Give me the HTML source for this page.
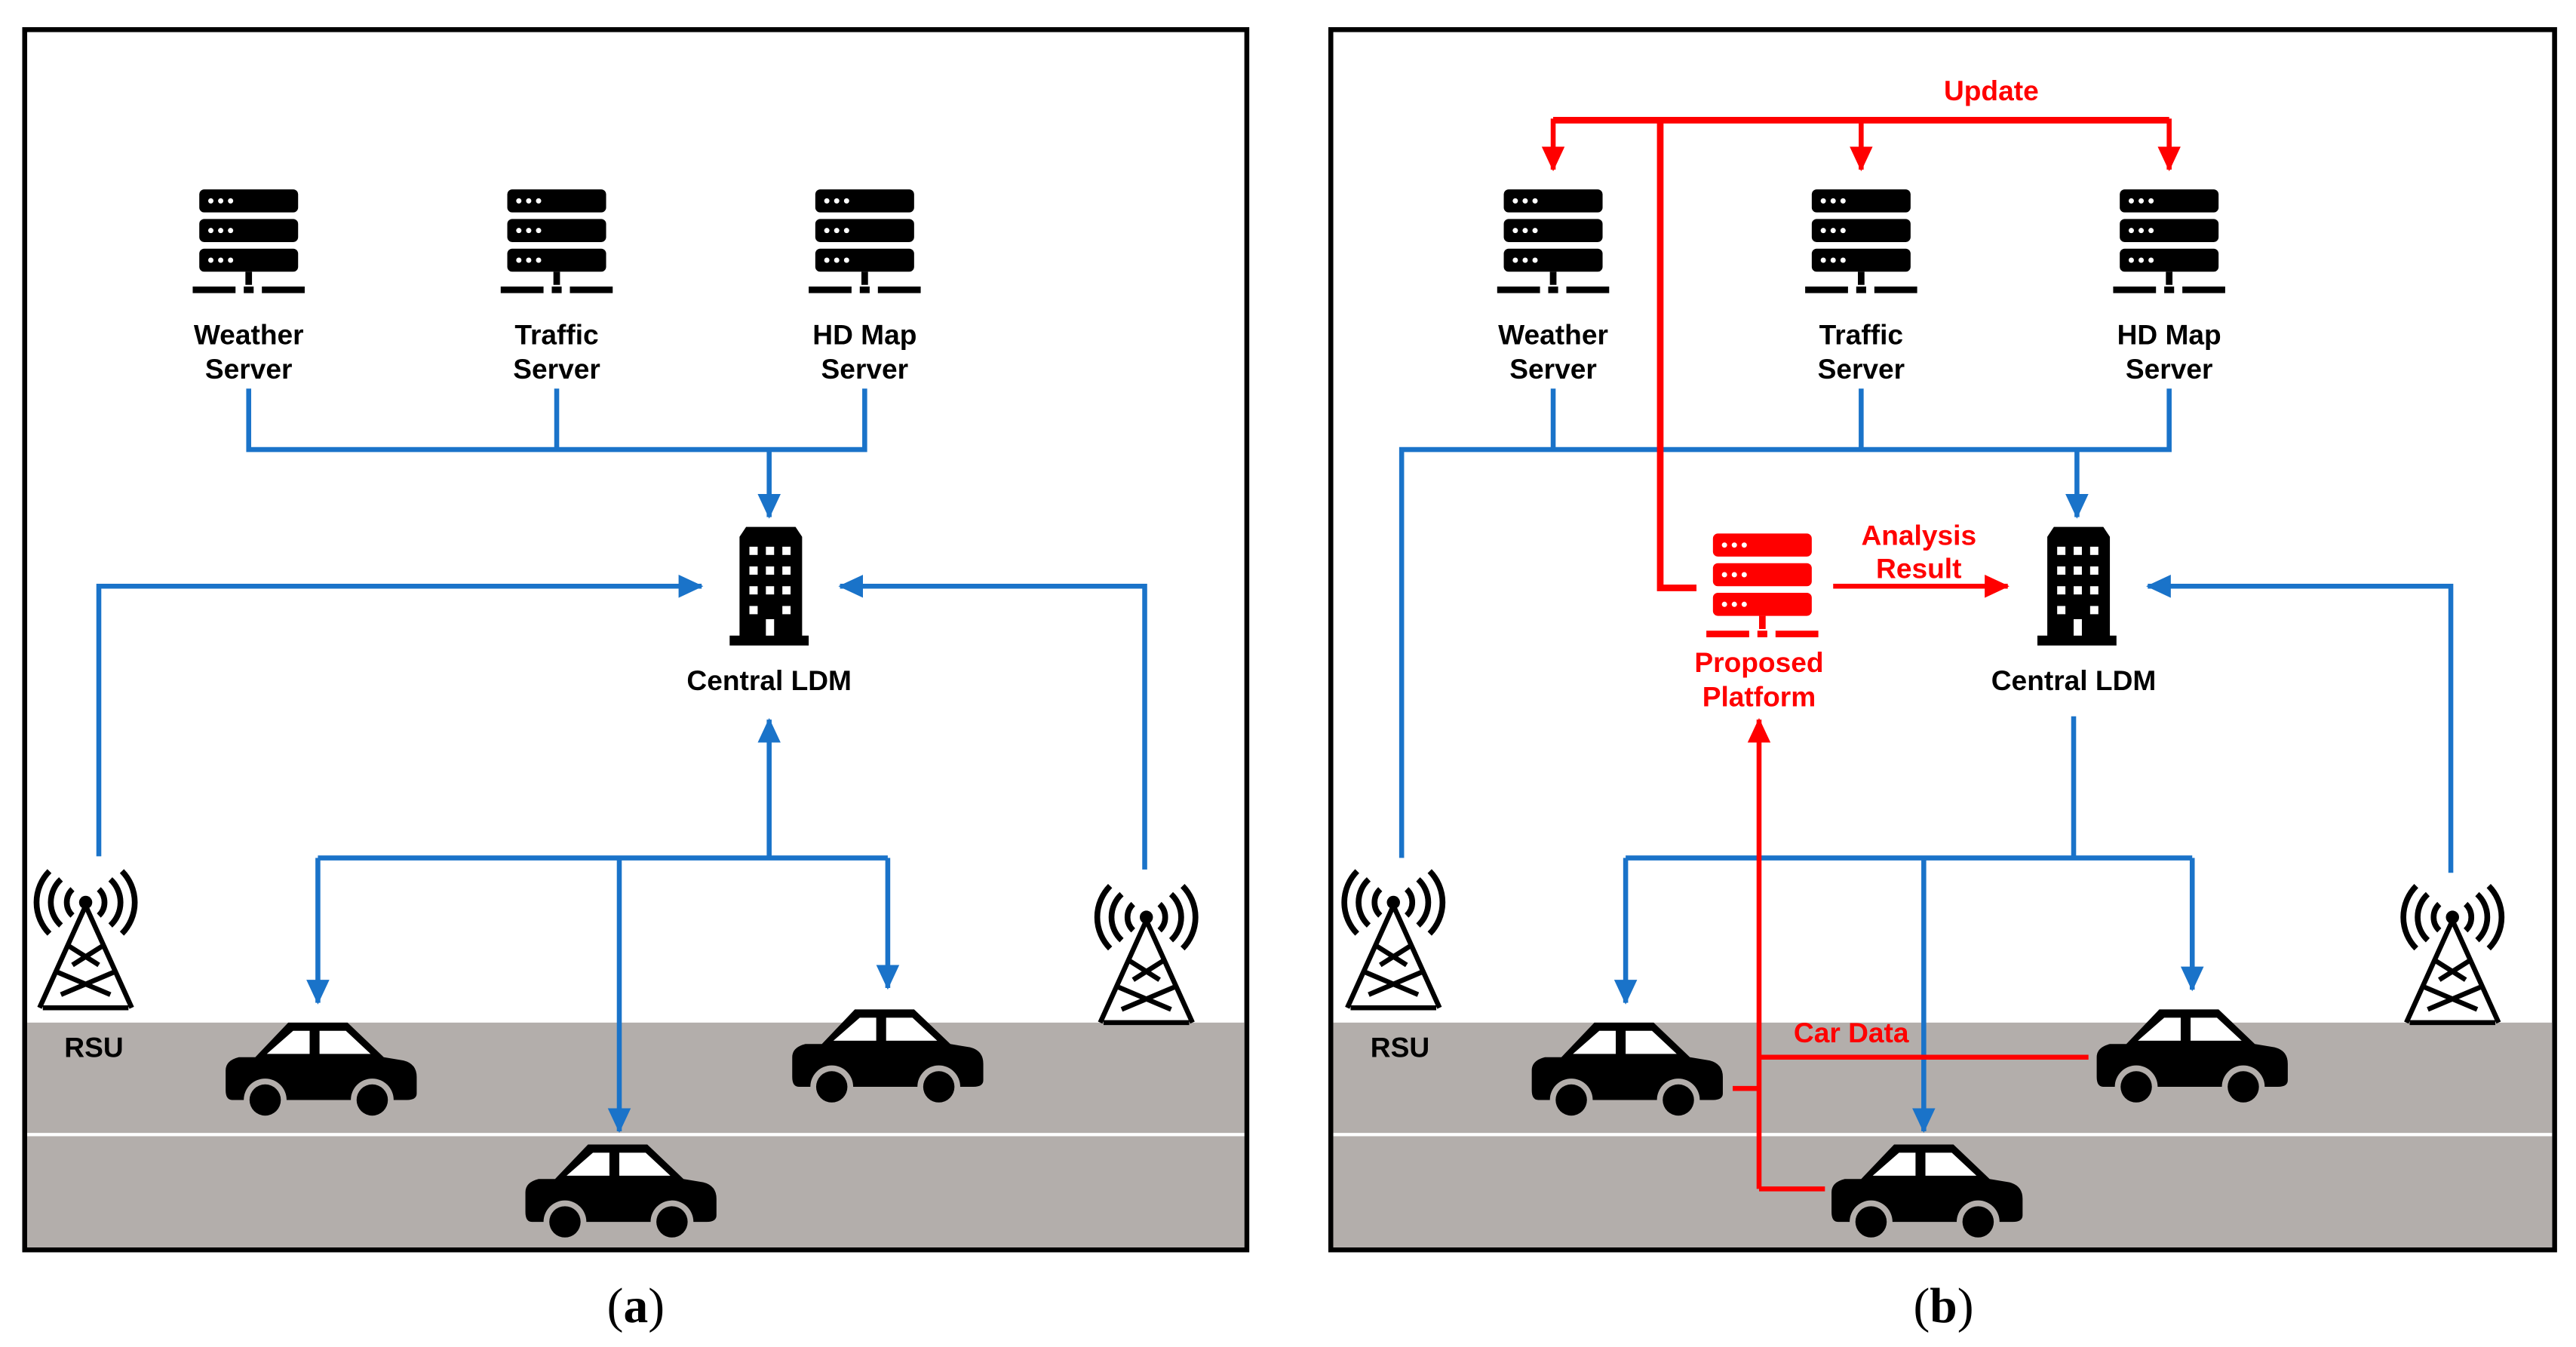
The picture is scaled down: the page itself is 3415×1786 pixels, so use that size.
<!DOCTYPE html>
<html><head><meta charset="utf-8"><style>
html,body{margin:0;padding:0;background:#fff;}
svg{display:block;}
text{font-family:"Liberation Sans",sans-serif;font-weight:bold;font-size:17px;text-anchor:middle;}
</style></head><body>
<svg width="3415" height="1786" viewBox="0 0 1564 818" preserveAspectRatio="none" xmlns="http://www.w3.org/2000/svg">
<defs>
<marker id="ab" markerUnits="userSpaceOnUse" markerWidth="16" markerHeight="16" refX="14" refY="8" orient="auto"><path d="M0,1 L15,8 L0,15 Z" fill="#1a73c9"/></marker>
<marker id="ar" markerUnits="userSpaceOnUse" markerWidth="16" markerHeight="16" refX="14" refY="8" orient="auto"><path d="M0,1 L15,8 L0,15 Z" fill="#f00"/></marker>
<g id="srv">
<rect x="0" y="0" width="60" height="14" rx="3"/><rect x="0" y="18" width="60" height="14" rx="3"/><rect x="0" y="36" width="60" height="14" rx="3"/>
<g fill="#fff"><circle cx="7" cy="7" r="1.6"/><circle cx="13" cy="7" r="1.6"/><circle cx="19" cy="7" r="1.6"/>
<circle cx="7" cy="25" r="1.6"/><circle cx="13" cy="25" r="1.6"/><circle cx="19" cy="25" r="1.6"/>
<circle cx="7" cy="43" r="1.6"/><circle cx="13" cy="43" r="1.6"/><circle cx="19" cy="43" r="1.6"/></g>
<rect x="28" y="50" width="4" height="8"/><rect x="-4" y="59" width="26" height="4"/><rect x="27" y="59" width="6" height="4"/><rect x="38" y="59" width="26" height="4"/>
</g>
<g id="car">
<path d="M2,30 Q2,24 10,22 L20,22 L40,1 L76,1 L98,22 L110,24 Q118,26 118,34 L118,44 Q118,48 112,48 L6,48 Q2,48 2,42 Z" fill="#000"/>
<path d="M27,20 L43,6 L53,6 L53,20 Z M59,6 L75,6 L90,20 L59,20 Z" fill="#fff"/>
<circle cx="26" cy="48" r="13" fill="#b3aeab"/><circle cx="26" cy="48" r="9.5" fill="#000"/>
<circle cx="91" cy="48" r="13" fill="#b3aeab"/><circle cx="91" cy="48" r="9.5" fill="#000"/>
</g>
<g id="bld">
<path d="M6,6 L10,0 L40,0 L44,6 L44,66 L48,66 L48,72 L0,72 L0,66 L6,66 Z" fill="#000"/>
<g fill="#fff"><rect x="12" y="12" width="5" height="5"/><rect x="22" y="12" width="5" height="5"/><rect x="32" y="12" width="5" height="5"/>
<rect x="12" y="24" width="5" height="5"/><rect x="22" y="24" width="5" height="5"/><rect x="32" y="24" width="5" height="5"/>
<rect x="12" y="36" width="5" height="5"/><rect x="22" y="36" width="5" height="5"/><rect x="32" y="36" width="5" height="5"/>
<rect x="12" y="48" width="5" height="5"/><rect x="32" y="48" width="5" height="5"/><rect x="22" y="56" width="5" height="10"/></g>
</g>
<g id="twr" fill="none" stroke="#000" stroke-width="3.5">
<circle cx="30" cy="18" r="4" fill="#000" stroke="none"/>
<path d="M22,10 A11,11 0 0 0 22,26 M38,10 A11,11 0 0 1 38,26 M15,4 A19,19 0 0 0 15,32 M45,4 A19,19 0 0 1 45,32 M8,-1 A27,27 0 0 0 8,37 M52,-1 A27,27 0 0 1 52,37"/>
<path d="M30,20 L2,82 M30,20 L58,82 M12,60 L45,74 M48,60 L15,74 M19,44 L38,56 M41,44 L22,56 M4,82 L56,82" stroke-width="3"/>
</g>
</defs>

<!-- Panel A -->
<rect x="15" y="18" width="742" height="741" fill="#fff" stroke="#000" stroke-width="3"/>
<rect x="16.5" y="621" width="739" height="136.5" fill="#b3aeab"/>
<rect x="16.5" y="688" width="739" height="2" fill="#fff"/>
<use href="#srv" x="121" y="115"/><use href="#srv" x="308" y="115"/><use href="#srv" x="495" y="115"/>
<text x="151" y="209">Weather</text><text x="151" y="230">Server</text>
<text x="338" y="209">Traffic</text><text x="338" y="230">Server</text>
<text x="525" y="209">HD Map</text><text x="525" y="230">Server</text>
<g fill="none" stroke="#1a73c9" stroke-width="3">
<path d="M151,236 V273 H525 V236 M338,236 V273"/>
<path d="M467,273 V314" marker-end="url(#ab)"/>
<path d="M60,520 V356 H426" marker-end="url(#ab)"/>
<path d="M695,528 V356 H510" marker-end="url(#ab)"/>
<path d="M467,521 V437" marker-end="url(#ab)"/>
<path d="M193,521 H539"/>
<path d="M193,521 V609" marker-end="url(#ab)"/>
<path d="M539,521 V600" marker-end="url(#ab)"/>
<path d="M376,521 V687" marker-end="url(#ab)"/>
</g>
<use href="#bld" x="443" y="320"/>
<text x="467" y="419">Central LDM</text>
<use href="#twr" x="22" y="530"/><use href="#twr" x="666" y="539"/>
<text x="57" y="642">RSU</text>
<use href="#car" x="135" y="620"/><use href="#car" x="479" y="612"/><use href="#car" x="317" y="694"/>
<text x="386" y="803" style="font-family:'Liberation Serif',serif;font-weight:normal;font-size:30px">(<tspan font-weight="bold">a</tspan>)</text>

<!-- Panel B -->
<rect x="808" y="18" width="743" height="741" fill="#fff" stroke="#000" stroke-width="3"/>
<rect x="809.5" y="621" width="740" height="136.5" fill="#b3aeab"/>
<rect x="809.5" y="688" width="740" height="2" fill="#fff"/>
<use href="#srv" x="913" y="115"/><use href="#srv" x="1100" y="115"/><use href="#srv" x="1287" y="115"/>
<text x="943" y="209">Weather</text><text x="943" y="230">Server</text>
<text x="1130" y="209">Traffic</text><text x="1130" y="230">Server</text>
<text x="1317" y="209">HD Map</text><text x="1317" y="230">Server</text>
<g fill="none" stroke="#1a73c9" stroke-width="3">
<path d="M943,236 V273 M1130,236 V273 M1317,236 V273 H851 V521"/>
<path d="M1261,273 V314" marker-end="url(#ab)"/>
<path d="M1488,530 V356 H1304" marker-end="url(#ab)"/>
<path d="M1259,435 V521 M987,521 H1331"/>
<path d="M987,521 V609" marker-end="url(#ab)"/>
<path d="M1331,521 V601" marker-end="url(#ab)"/>
<path d="M1168,521 V687" marker-end="url(#ab)"/>
</g>
<g fill="none" stroke="#f00" stroke-width="3">
<path d="M943,73 H1317 M1008,73 V357 H1030" stroke-width="4"/>
<path d="M943,72 V103" marker-end="url(#ar)"/>
<path d="M1130,72 V103" marker-end="url(#ar)"/>
<path d="M1317,72 V103" marker-end="url(#ar)"/>
<path d="M1113,356 H1219" marker-end="url(#ar)"/>
<path d="M1068,722 V437" marker-end="url(#ar)"/>
<path d="M1068,642 H1268 M1052,661 H1068 M1068,722 H1108"/>
</g>
<g fill="#f00"><use href="#srv" x="1040" y="324"/></g>
<text x="1209" y="61" fill="#f00">Update</text>
<text x="1165" y="331" fill="#f00">Analysis</text><text x="1165" y="351" fill="#f00">Result</text>
<text x="1068" y="408" fill="#f00">Proposed</text><text x="1068" y="429" fill="#f00">Platform</text>
<text x="1124" y="633" fill="#f00">Car Data</text>
<use href="#bld" x="1237" y="320"/>
<text x="1259" y="419">Central LDM</text>
<use href="#twr" x="816" y="530"/><use href="#twr" x="1459" y="539"/>
<text x="850" y="642">RSU</text>
<use href="#car" x="928" y="620"/><use href="#car" x="1271" y="612"/><use href="#car" x="1110" y="694"/>
<text x="1180" y="803" style="font-family:'Liberation Serif',serif;font-weight:normal;font-size:30px">(<tspan font-weight="bold">b</tspan>)</text>
</svg>
</body></html>
